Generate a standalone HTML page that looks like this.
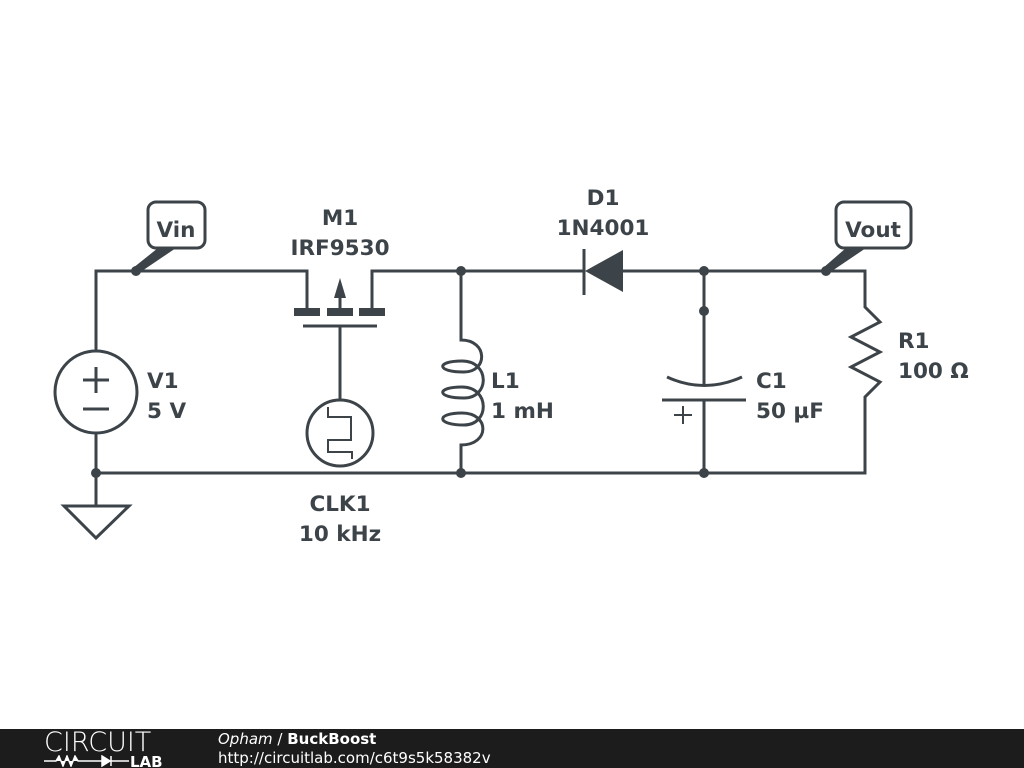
<!DOCTYPE html>
<html><head><meta charset="utf-8"><style>
body{margin:0;width:1024px;height:768px;background:#fff;overflow:hidden;position:relative;font-family:"DejaVu Sans","Liberation Sans",sans-serif}
.bar{position:absolute;left:0;top:729px;width:1024px;height:39px;background:#1c1c1c;color:#fff}
</style></head><body>
<svg width="1024" height="729" style="position:absolute;left:0;top:0" xmlns="http://www.w3.org/2000/svg">
<g stroke="#3d4449" stroke-width="3" fill="none" stroke-linecap="butt">
<path d="M96 473 V433 M96 351 V271 H307 V312"/>
<path d="M372 312 V271 H585 M623 271 H865 V307 L880 322 L851 337 L880 352 L851 367 L880 382 L865 397 V473 H96 V505"/>
<circle cx="96" cy="392" r="41"/>
<path d="M83 380 H109 M96 367 V393 M83 409 H109"/>
<path d="M64 506 H129 L96 538 Z"/>
<path d="M340 312 V287"/>
<path d="M303 326 H377 M340 326 V400"/>
<circle cx="340" cy="433" r="33"/>
<path d="M328 407 V417 H351 V440 H328 V452 H352 V459" stroke-width="2"/>
<path d="M461 271 V340 C488 340 488 372 464 372 C436 372 436 361 462 361 C490 361 490 398 464 398 C436 398 436 387 462 387 C490 387 490 425 464 425 C436 425 436 413 462 413 C490 413 490 445 461 445 V473"/>
<path d="M704 271 V384 M667 377 Q704 394 742 377 M662 400 H746 M704 400 V473"/>
<path d="M674 415 H692 M683 406 V424" stroke-width="2"/>
<path d="M584 249 V295"/>
<rect x="148" y="202" width="57" height="46" rx="8" fill="#fff"/>
<rect x="836" y="202" width="75" height="46" rx="8" fill="#fff"/>
</g>
<g fill="#3d4449">
<path d="M294 308 H320 V316 H294 Z M327 308 H353 V316 H327 Z M359 308 H385 V316 H359 Z"/>
<path d="M340 278 L334 298 H346 Z"/>
<path d="M585 271 L623 250 V292 Z"/>
<path d="M133 268 L158 248 L176 248 L139 273 Z"/>
<path d="M823 268 L846 248 L866 248 L829 273 Z"/>
<circle cx="136" cy="271" r="5"/><circle cx="826" cy="271" r="5"/>
<circle cx="461" cy="271" r="5"/><circle cx="704" cy="271" r="5"/><circle cx="704" cy="311" r="5"/>
<circle cx="96" cy="473" r="5"/><circle cx="461" cy="473" r="5"/><circle cx="704" cy="473" r="5"/>
</g>
<g fill="#3d4449" font-family="DejaVu Sans, Liberation Sans, sans-serif" font-weight="bold" font-size="21.5">
<text x="176" y="237" text-anchor="middle">Vin</text>
<text x="873" y="237" text-anchor="middle">Vout</text>
<text x="340" y="225" text-anchor="middle">M1</text>
<text x="340" y="255" text-anchor="middle">IRF9530</text>
<text x="603" y="205" text-anchor="middle">D1</text>
<text x="603" y="235" text-anchor="middle">1N4001</text>
<text x="147" y="388">V1</text><text x="147" y="418">5 V</text>
<text x="491" y="388">L1</text><text x="491" y="418">1 mH</text>
<text x="756" y="388">C1</text><text x="756" y="418">50 µF</text>
<text x="898" y="348">R1</text><text x="898" y="378">100 Ω</text>
<text x="340" y="511" text-anchor="middle">CLK1</text>
<text x="340" y="541" text-anchor="middle">10 kHz</text>
</g>
</svg>
<div class="bar">
<div style="position:absolute;left:44px;top:0;font-size:27px;font-family:'DejaVu Sans';font-weight:200;line-height:28px;color:#fff">CIRCUIT</div>
<svg width="130" height="12" style="position:absolute;left:44px;top:26px"><path d="M0 6 H12 L15 1 L19 11 L23 1 L27 11 L31 1 L34 6 H58 M58 1 L66 6 L58 11 Z M67 1 V11 M67 6 H85" stroke="#fff" stroke-width="1.5" fill="#fff"/><text x="86" y="12" fill="#fff" font-weight="bold" font-size="15" font-family="DejaVu Sans">LAB</text></svg>
<div style="position:absolute;left:218px;top:1px;font-size:15px;line-height:18px"><i>Opham</i> / <b>BuckBoost</b></div>
<div style="position:absolute;left:218px;top:20px;font-size:15px;line-height:18px">http://circuitlab.com/c6t9s5k58382v</div>
</div>
</body></html>
